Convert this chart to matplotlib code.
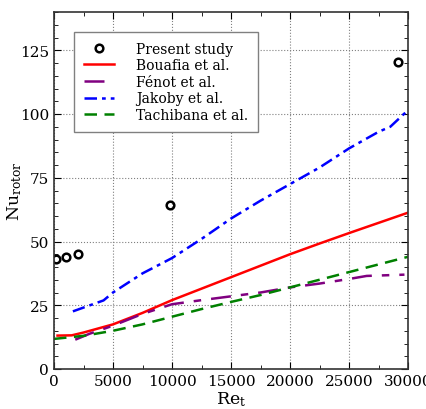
import matplotlib
matplotlib.use('Agg')
import matplotlib.pyplot as plt
from matplotlib.ticker import MultipleLocator

plt.rcParams['font.family'] = 'DejaVu Serif'
plt.rcParams['mathtext.fontset'] = 'dejavuserif'

# present study (points)
re_present = [200, 1000, 2000, 9800, 29150]
nu_present = [43.0, 44.0, 45.0, 64.3, 120.3]

# Bouafia et al.
re_bou = [300, 1500, 2500, 5000, 7500, 10000, 12500, 15000, 17500, 20000, 22500, 25000, 27500, 30000]
nu_bou = [13.1, 13.2, 14.3, 17.5, 22.0, 27.0, 31.5, 36.0, 40.5, 45.0, 49.2, 53.3, 57.3, 61.3]

# Fenot et al.
re_fen = [1800, 3000, 5000, 7500, 10000, 12500, 15000, 17500, 20000, 22500, 25000, 26500, 29700]
nu_fen = [11.5, 13.8, 17.0, 21.6, 25.4, 27.0, 28.5, 30.0, 32.0, 33.5, 35.3, 36.5, 37.0]

# Jakoby et al.
re_jak = [1600, 4200, 5000, 7500, 10000, 12500, 15000, 17500, 20000, 22500, 25000, 27500, 28500, 30000]
nu_jak = [22.6, 26.9, 30.0, 37.5, 43.5, 51.0, 59.0, 66.0, 72.5, 79.0, 86.5, 93.0, 95.0, 101.5]

# Tachibana et al.
re_tac = [0, 2500, 5000, 7500, 10000, 12500, 15000, 17500, 20000, 22500, 25000, 27500, 30000]
nu_tac = [11.8, 13.0, 15.0, 17.5, 20.5, 23.5, 26.3, 29.0, 32.0, 35.0, 38.0, 41.0, 44.0]

fig = plt.figure(figsize=(4.27, 4.10), dpi=100)
ax = fig.add_axes([54 / 427, 40 / 410, 354 / 427, 357 / 410])

ax.plot(re_present, nu_present, 'o', mfc='none', mec='black', mew=1.8, ms=5.5,
        linestyle='none', label='Present study')
ax.plot(re_bou, nu_bou, color='red', lw=1.8, label='Bouafia et al.')
ax.plot(re_fen, nu_fen, color='purple', lw=1.8, dashes=(8, 4, 3, 4), label='Fénot et al.')
ax.plot(re_jak, nu_jak, color='blue', lw=1.8, dashes=(5, 2, 1.5, 2), label='Jakoby et al.')
ax.plot(re_tac, nu_tac, color='green', lw=1.8, dashes=(5, 3), label='Tachibana et al.')

ax.set_xlim(0, 30000)
ax.set_ylim(0, 140)
ax.xaxis.set_major_locator(MultipleLocator(5000))
ax.xaxis.set_minor_locator(MultipleLocator(2500))
ax.yaxis.set_major_locator(MultipleLocator(25))
ax.yaxis.set_minor_locator(MultipleLocator(5))
ax.tick_params(which='both', direction='in', top=True, right=True, labelsize=11)
ax.tick_params(which='major', length=5)
ax.tick_params(which='minor', length=3)
ax.grid(True, which='major', color='gray', linestyle=':', linewidth=0.8)
for s in ax.spines.values():
    s.set_linewidth(1.2)
    s.set_color('#333333')

ax.set_xlabel(r'$\mathrm{Re_t}$', fontsize=12.5, labelpad=1)
ax.set_ylabel(r'$\mathrm{Nu_{rotor}}$', fontsize=12.5)
ax.yaxis.set_label_coords(-0.085, 0.5)

leg = ax.legend(loc='upper left', bbox_to_anchor=(0.056, 0.944), borderaxespad=0,
                fontsize=10, fancybox=False, edgecolor='gray', framealpha=1,
                handlelength=2.2, labelspacing=0.185, borderpad=0.7, handletextpad=1.6)
leg.get_frame().set_linewidth(1.0)

fig.savefig('out.png', dpi=100)
